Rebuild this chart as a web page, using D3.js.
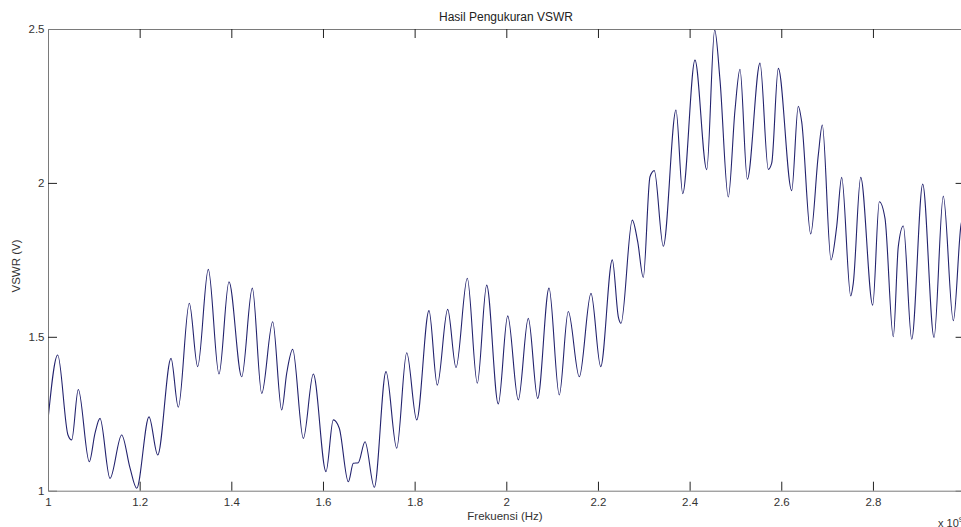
<!DOCTYPE html>
<html>
<head>
<meta charset="utf-8">
<script src="https://cdn.jsdelivr.net/npm/d3@7"></script>
<style>
  body { margin: 0; background: #fff; }
  svg { display: block; font-family: "Liberation Sans", Arial, sans-serif; }
</style>
</head>
<body>
<svg width="961" height="527"></svg>
<script>
const freq = [1.000, 1.0212, 1.0436, 1.0517, 1.0661, 1.0901, 1.1026, 1.1135, 1.1353, 1.1608,
              1.1789, 1.1935, 1.2204, 1.2394, 1.2684, 1.2843, 1.3083, 1.3266, 1.3498, 1.3731,
              1.3949, 1.4227, 1.4458, 1.4663, 1.4903, 1.5099, 1.5208, 1.5339, 1.5571, 1.5789,
              1.6066, 1.6225, 1.6356, 1.6553, 1.6662, 1.6771, 1.6917, 1.7120, 1.7375, 1.7609,
              1.7827, 1.8045, 1.8313, 1.8494, 1.8721, 1.8903, 1.9149, 1.9367, 1.9572, 1.9825,
              2.0031, 2.0262, 2.0480, 2.0685, 2.0932, 2.1156, 2.1352, 2.1593, 2.1848, 2.2060,
              2.2313, 2.2444, 2.2503, 2.2749, 2.2867, 2.2989, 2.3135, 2.3229, 2.3426, 2.3703,
              2.3849, 2.4117, 2.4373, 2.4547, 2.4663, 2.4844, 2.4990, 2.5099, 2.5259, 2.5536,
              2.5717, 2.5791, 2.5935, 2.6227, 2.6371, 2.6445, 2.6642, 2.6808, 2.6895, 2.7085,
              2.7209, 2.7318, 2.7515, 2.7571, 2.7733, 2.7995, 2.8139, 2.8263, 2.8444, 2.8553,
              2.8663, 2.8846, 2.9086, 2.9333, 2.9535, 2.9754, 2.9921, 3.000];

const vswr = [1.230, 1.441, 1.181, 1.165, 1.329, 1.094, 1.187, 1.235, 1.040, 1.181,
              1.074, 1.008, 1.240, 1.116, 1.430, 1.271, 1.609, 1.403, 1.719, 1.379,
              1.679, 1.370, 1.658, 1.316, 1.549, 1.262, 1.381, 1.459, 1.170, 1.379,
              1.062, 1.230, 1.203, 1.029, 1.089, 1.091, 1.159, 1.011, 1.387, 1.138,
              1.448, 1.230, 1.585, 1.343, 1.589, 1.400, 1.690, 1.349, 1.668, 1.282,
              1.568, 1.295, 1.560, 1.300, 1.658, 1.311, 1.582, 1.370, 1.641, 1.403,
              1.750, 1.565, 1.544, 1.879, 1.809, 1.693, 2.020, 2.040, 1.794, 2.237,
              1.965, 2.399, 2.043, 2.497, 2.334, 1.954, 2.237, 2.369, 2.012, 2.389,
              2.044, 2.064, 2.372, 1.975, 2.249, 2.199, 1.834, 2.091, 2.188, 1.750,
              1.858, 2.018, 1.633, 1.674, 2.018, 1.603, 1.939, 1.885, 1.500, 1.793,
              1.860, 1.492, 1.996, 1.498, 1.957, 1.552, 1.863, 1.900];

const xTicks = [1, 1.2, 1.4, 1.6, 1.8, 2, 2.2, 2.4, 2.6, 2.8];
const yTicks = [1, 1.5, 2, 2.5];

const LEFT = 48, RIGHT = 964.6, TOP = 29, BOTTOM = 490.7;
const TICK = 9;
const AXIS_COLOR = '#7a7a7a';

function main(){
    let svg = d3.select('svg');
    let x = d3.scaleLinear().domain([1, 3]).range([LEFT, RIGHT]);
    let y = d3.scaleLinear().domain([1, 2.5]).range([BOTTOM, TOP]);

    let pts = freq.map((f, i) => ({f: f, v: vswr[i]}));

    // clip so the line stays inside the box
    svg.append('clipPath').attr('id', 'box')
       .append('rect').attr('x', LEFT).attr('y', TOP)
       .attr('width', RIGHT - LEFT).attr('height', BOTTOM - TOP);

    let line = d3.line().x(d => x(d.f)).y(d => y(d.v)).curve(d3.curveMonotoneX);
    svg.append('path').datum(pts)
       .attr('clip-path', 'url(#box)')
       .attr('d', line)
       .attr('fill', 'none')
       .attr('stroke', '#23236e')
       .attr('stroke-width', 1.1);

    // MATLAB-like box with inward ticks on all four sides
    let fmt = d => String(+d.toFixed(1));
    let mk = (axis, tr) => svg.append('g').attr('transform', tr).call(axis);
    let bottom = mk(d3.axisBottom(x).tickValues(xTicks).tickSize(-TICK).tickPadding(7).tickFormat(fmt),
                    `translate(0,${BOTTOM})`);
    let top = mk(d3.axisTop(x).tickValues(xTicks).tickSize(-TICK).tickFormat(''),
                 `translate(0,${TOP})`);
    let left = mk(d3.axisLeft(y).tickValues(yTicks).tickSize(-TICK).tickPadding(3.5).tickFormat(fmt),
                  `translate(${LEFT},0)`);
    let right = mk(d3.axisRight(y).tickValues(yTicks).tickSize(-TICK).tickFormat(''),
                   `translate(${RIGHT},0)`);

    [bottom, top, left, right].forEach(g => {
        g.select('.domain').attr('stroke', AXIS_COLOR).attr('stroke-width', 1);
        g.selectAll('.tick line').attr('stroke', '#222');
        g.selectAll('.tick text').attr('fill', '#333').attr('font-size', 11.5)
         .attr('font-family', '"Liberation Sans", Arial, sans-serif');
    });
    left.selectAll('.tick line').filter(d => d === 1 || d === 2.5).remove();
    right.selectAll('.tick line').filter(d => d === 1 || d === 2.5).remove();
    bottom.selectAll('.tick line').filter(d => d === 1).remove();
    top.selectAll('.tick line').filter(d => d === 1).remove();

    // texts
    svg.append('text').attr('x', 506).attr('y', 20.5)
       .attr('text-anchor', 'middle').attr('font-size', 12).attr('fill', '#222')
       .text('Hasil Pengukuran VSWR');
    svg.append('text').attr('x', 505).attr('y', 520)
       .attr('text-anchor', 'middle').attr('font-size', 11.5).attr('fill', '#333')
       .text('Frekuensi (Hz)');
    svg.append('text').attr('transform', 'translate(20,266) rotate(-90)')
       .attr('text-anchor', 'middle').attr('font-size', 11.5).attr('fill', '#333')
       .text('VSWR (V)');
    let sci = svg.append('text').attr('x', 938).attr('y', 526.5)
       .attr('font-size', 11).attr('fill', '#333');
    sci.append('tspan').text('x 10');
    sci.append('tspan').attr('dy', -5).attr('font-size', 8).text('9');
}

main();
</script>
</body>
</html>
